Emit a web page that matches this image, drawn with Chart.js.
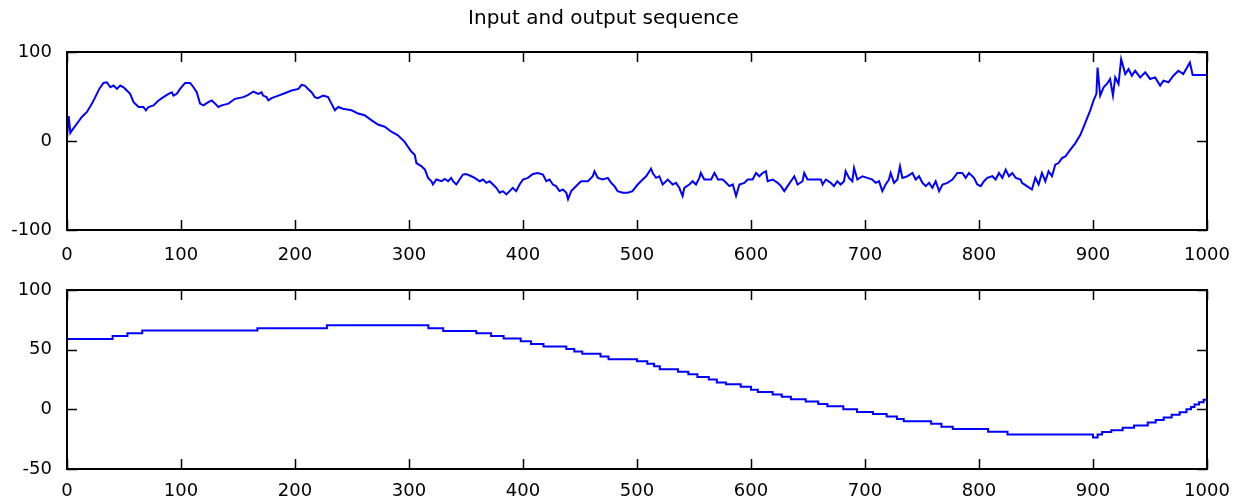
<!DOCTYPE html>
<html>
<head>
<meta charset="utf-8">
<script src="https://cdn.jsdelivr.net/npm/chart.js@4/dist/chart.umd.min.js"></script>
<style>
  body { margin: 0; background: #fff; }
  #wrap { position: relative; width: 1243px; height: 503px; }
  canvas { position: absolute; left: 0; }
</style>
</head>
<body>
<div id="wrap">
  <canvas id="top" width="1243" height="275" style="top:0"></canvas>
  <canvas id="bottom" width="1243" height="243" style="top:260px"></canvas>
</div>
<script>
// input sequence (top plot)
const inX = [0,1.5,3,4.4,8.8,13,17.5,21.9,24.8,28.3,32,35,38,40.9,43.8,46.7,49.6,52.5,55.4,58.4,62.8,67,69.2,71.5,75.9,80.3,84.6,89,92,93.4,96.3,99.2,103.6,108,111,113.8,116.7,119.7,124,127,129.9,132.8,135.7,141.6,147.4,154.7,159,163.5,167.8,170.7,
  172,175,176.6,179.5,185.4,191,197,203,205.7,208.6,211.5,214.5,217.4,220,224.7,229,232,235,237.9,242,249.6,255.4,261,267,272.8,278.7,284.5,290,296,302,305,306.5,311,314,316.7,319.7,321,324,328.5,331.4,334.3,337,
  338.6,341.5,344.4,347.3,350,354.7,357.6,362,365,367.8,370.7,373.7,376.6,379.5,382.4,385.4,388.3,391,394,397,400,404.3,408.7,413,417.5,420.4,423.3,426.2,429,432,435,438,439.5,442.3,445.2,448,451,457,461.2,462.7,465.6,470,474.4,477.3,480.2,483,487.5,491.9,496,500.6,
  505,508,510.9,512.3,513.8,516.7,519.6,522.5,527,531.3,534.2,537.1,540,541.5,545.9,548.8,551.7,554.7,556,559,565,568,571,575.2,578.2,581,584,586.9,589.8,594.2,597,601.4,604.4,607.3,610.2,613.1,614.6,619,623.4,626.3,629.2,632.1,635,638,640.9,645.2,646.7,649.6,655.5,661.3,662.8,665.7,670,
  672.8,675.7,678.6,681.6,683,686,688.9,690.4,693.3,697.7,702,706.4,709.4,712.3,715.2,718.1,721,722.5,725.5,728.4,730.7,732.8,737.2,741.6,744.5,747.4,750.4,753.3,756.2,759.1,762,765,768,772.3,776.7,781,785.4,788.3,791.2,795.6,798.5,801.5,804.4,807.3,811.7,814.6,817.5,820.5,823.4,826.3,829.2,832.2,836.5,
  837.7,842,846.4,849.4,852.3,855.2,858.2,861,864,866.9,869.8,872.8,875.7,880,884.4,888.8,891.8,894.7,897.6,900.5,903,904,906.3,909.3,912.2,915,917.5,919.5,922.4,924.7,928.3,931.2,934.1,937,941.4,945.8,950.1,954.5,958.9,961.8,966.2,970.5,974.9,979.2,985,987.4,1000];
const inY = [3,28,9,12,19.7,27,32.6,42,49.3,58.5,65.2,66,60.4,62.3,58.5,62.3,60.4,56.7,53,43.7,38.2,38.2,34.5,38.2,40,45.6,49.3,53,54.8,51,53,58.5,65.2,65.2,60.4,54.8,42,40,43.7,45.6,42,38.2,40,42,47.4,49.3,51.9,55.6,53,54.8,
  51,49.3,45.6,48.2,51,53.7,56.7,58.5,63,62.3,58.5,54.8,49.3,48.2,51,49.3,42,34.5,38.2,36.3,34.5,30.8,29,23.4,18.5,16,10.4,6.7,-0.7,-11.8,-15.5,-24.8,-28.5,-32.2,-41.4,-45.2,-48.9,-43.3,-45.2,-42.6,-45.2,-41.4,
  -45.2,-48.9,-43.3,-37.7,-37,-39.6,-41.4,-45.2,-43.3,-47,-45.2,-48.9,-52.6,-58.1,-56.3,-60,-56.3,-52.6,-56.3,-48.9,-43.3,-41.4,-37,-35.9,-37.7,-45.2,-43.3,-48.9,-50.7,-56.3,-54.5,-58.1,-65.5,-56.3,-52.6,-48.9,-45.2,-45.2,-39.6,-34,-41.4,-43.3,-41.4,-47,-50.7,-56.3,-58.1,-58.1,-56.3,-48.9,
  -43.3,-39.6,-34,-31.1,-35.9,-41.4,-39.6,-48.9,-43.3,-48.9,-47,-52.6,-61.8,-52.6,-48.9,-45.2,-48.9,-41.4,-35.9,-43.3,-43.3,-35.9,-43.3,-43.3,-47,-50.7,-48.9,-61.8,-48.9,-47,-43.3,-43.3,-35.9,-39.6,-35.9,-34,-45.2,-43.3,-47,-50.7,-56.3,-50.7,-45.2,-39.6,-48.9,-45.2,-35.9,-43.3,-43.3,-43.3,-48.9,-43.3,-47,
  -50.7,-45.2,-48.9,-45.2,-34,-41.4,-45.2,-30.3,-43.3,-39.6,-41.4,-43.3,-47,-45.2,-56.3,-48.9,-43.3,-35.9,-47,-43.3,-28.5,-41.4,-39.6,-35.9,-43.3,-39.6,-47,-50.7,-47,-52.6,-45.2,-56.3,-48.9,-47,-43.3,-35.9,-35.9,-41.4,-35.9,-41.4,-48.9,-50.7,-45.2,-41.4,-39.6,-43.3,-35.9,-41.4,-32.2,-39.6,-35.9,-41.4,-43.3,
  -47,-50.7,-54.5,-41.4,-48.9,-35.9,-45.2,-34,-39.6,-26.6,-24.8,-19.2,-17.4,-10,-2.6,6.7,16,25.2,34.5,45.6,53,82.6,51.1,60.4,64.1,69.7,51.1,71.5,64.1,91.9,75.2,80.8,73.4,78.9,71.5,77.1,69.7,71.5,62.3,67.8,66,73.4,78.9,75.2,88.2,74.1,74.1];

// output sequence (bottom plot), step breakpoints
const outX = [0,40,53,66,167,228,317,330,359,372,383,398,407,418,438,445,452,468,475,500,509,515,520,536,545,553,563,570,578,591,600,606,619,627,635,648,659,667,681,693,707,719,728,734,758,767,777,808,825,900,904,908,916,926,936,948,955,962,969,976,982,986,989,993,997,1000];
const outY = [59,61.5,63.8,66,68,70.4,68,65.7,63.8,61.5,59.3,57,54.8,52.6,50.5,48.5,46.5,44.2,42,40.2,38.3,36,33.5,31.5,29.5,27,25,22.5,21,19,16.5,14.5,12.5,10.5,8.5,6.5,4.5,2.5,0,-2.2,-4,-6,-8,-10,-12,-14.5,-16.5,-18.7,-21,-23.5,-21,-19,-17.5,-15.5,-13.5,-11,-9,-6.8,-4.5,-2.5,0,2,4,6,8,8];

const xTicks = [0, 1000, 100];
const inTicks = [-100, 100, 100];
const outTicks = [-50, 100, 50];
const titleText = 'Input and output sequence';

const labelFont = { family: 'DejaVu Sans', size: 18 };

// matlab style box with inward tick marks
const frame = {
  id: 'frame',
  afterDraw(chart) {
    const { ctx, chartArea: a, scales } = chart;
    const len = 10;
    ctx.save();
    ctx.strokeStyle = '#000';
    ctx.lineWidth = 1.5;
    ctx.beginPath();
    scales.x.ticks.forEach(t => {
      const px = Math.round(scales.x.getPixelForValue(t.value)) + 0.5;
      ctx.moveTo(px, a.bottom); ctx.lineTo(px, a.bottom - len);
      ctx.moveTo(px, a.top); ctx.lineTo(px, a.top + len);
    });
    scales.y.ticks.forEach(t => {
      const py = Math.round(scales.y.getPixelForValue(t.value)) + 0.5;
      ctx.moveTo(a.left, py); ctx.lineTo(a.left + len, py);
      ctx.moveTo(a.right, py); ctx.lineTo(a.right - len, py);
    });
    ctx.stroke();
    ctx.lineWidth = 2;
    ctx.strokeRect(a.left, a.top, a.right - a.left, a.bottom - a.top);
    ctx.restore();
  }
};

function makeChart(id, xs, ys, yt, opts) {
  const pts = xs.map((x, i) => ({ x: x, y: ys[i] }));
  return new Chart(document.getElementById(id), {
    type: 'line',
    data: {
      datasets: [{
        data: pts,
        borderColor: '#0000ff',
        borderWidth: 2,
        pointRadius: 0,
        tension: 0,
        stepped: opts.stepped || false
      }]
    },
    options: {
      responsive: false,
      animation: false,
      layout: { padding: { top: opts.padTop, right: 36, left: 0, bottom: 0 } },
      plugins: {
        legend: { display: false },
        tooltip: { enabled: false },
        title: opts.title ? {
          display: true,
          text: opts.title,
          color: '#000',
          font: { family: 'DejaVu Sans', size: 20, weight: 'normal' },
          padding: { top: 7, bottom: 21 }
        } : { display: false }
      },
      scales: {
        x: {
          type: 'linear',
          min: xTicks[0], max: xTicks[1],
          grid: { display: false },
          border: { display: false },
          ticks: { stepSize: xTicks[2], color: '#000', font: labelFont, padding: opts.xpad, maxRotation: 0,
                   callback: v => String(v) },
          afterFit: s => { s.height = opts.xh; }
        },
        y: {
          min: yt[0], max: yt[1],
          grid: { display: false },
          border: { display: false },
          ticks: { stepSize: yt[2], color: '#000', font: labelFont, padding: 7 },
          afterFit: s => { s.width = 67; }
        }
      }
    },
    plugins: [frame]
  });
}

makeChart('top', inX, inY, inTicks, { title: titleText, padTop: 0, xh: 45, xpad: 7 });
makeChart('bottom', outX, outY, outTicks, { padTop: 30, xh: 34, xpad: 4, stepped: 'before' });
</script>
</body>
</html>
